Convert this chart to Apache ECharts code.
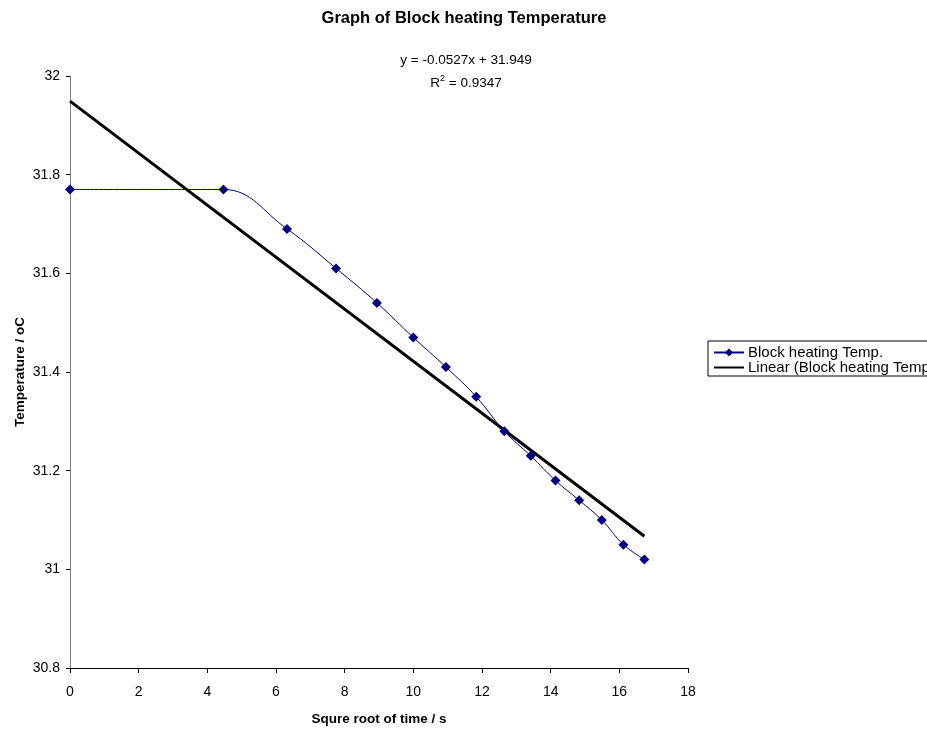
<!DOCTYPE html>
<html>
<head>
<meta charset="utf-8">
<script src="https://cdn.jsdelivr.net/npm/echarts@6/dist/echarts.min.js"></script>
<style>
html,body{margin:0;padding:0;background:#fff;}
#chart{width:927px;height:730px;}
</style>
</head>
<body>
<div id="chart"></div>
<script>
var sqrtTime = [0, 4.47, 6.32, 7.75, 8.94, 10, 10.95, 11.83, 12.65, 13.42, 14.14, 14.83, 15.49, 16.12, 16.73];
var temperature = [31.77, 31.77, 31.69, 31.61, 31.54, 31.47, 31.41, 31.35, 31.28, 31.23, 31.18, 31.14, 31.10, 31.05, 31.02];
var trendX = [0, 16.73];
var trendY = [31.949, 31.067];
var seriesName = 'Block heating Temp.';
var trendName = 'Linear (Block heating Temp.)';
var equationText = 'y = -0.0527x + 31.949';
var r2Value = '0.9347';

var FONT = '"Liberation Sans", Arial, sans-serif';
var chart = echarts.init(document.getElementById('chart'), null, {renderer: 'canvas'});

chart.setOption({
  animation: false,
  backgroundColor: '#ffffff',
  textStyle: {fontFamily: FONT, color: '#000'},
  title: {
    text: 'Graph of Block heating Temperature',
    left: 464, top: 10, textAlign: 'center', padding: 0,
    textStyle: {fontFamily: FONT, fontSize: 16.5, fontWeight: 'bold', color: '#000'}
  },
  graphic: [
    {type: 'text', x: 466, y: 60, style: {text: equationText, fontFamily: FONT, fontSize: 13.5, fill: '#000', align: 'center', verticalAlign: 'middle'}},
    {type: 'text', x: 466, y: 82, style: {
      text: '{a|R}{s|2}{a| = ' + r2Value + '}',
      align: 'center', verticalAlign: 'middle',
      rich: {
        a: {fontFamily: FONT, fontSize: 13.5, color: '#000', verticalAlign: 'bottom', lineHeight: 16},
        s: {fontFamily: FONT, fontSize: 9, color: '#000', verticalAlign: 'top', lineHeight: 9}
      }
    }}
  ],
  legend: {
    orient: 'vertical',
    left: 708, top: 341,
    padding: [4, 6, 1, 5],
    itemGap: 0,
    itemWidth: 30, itemHeight: 10,
    borderColor: '#000', borderWidth: 1, borderRadius: 0,
    textStyle: {fontFamily: FONT, fontSize: 15, color: '#000', lineHeight: 15, padding: [0,0,0,-1]},
    data: [seriesName, {name: trendName, itemStyle: {color: 'rgba(0,0,0,0)', borderColor: 'rgba(0,0,0,0)', borderWidth: 0}}]
  },
  grid: {left: 70, right: 239, top: 76, bottom: 62, containLabel: false, outerBoundsMode: 'none'},
  xAxis: {
    type: 'value', min: 0, max: 18, interval: 2,
    name: 'Squre root of time / s', nameLocation: 'middle', nameGap: 44, nameMoveOverlap: false,
    nameTextStyle: {fontFamily: FONT, fontSize: 13.5, fontWeight: 'bold', color: '#000'},
    axisLine: {lineStyle: {color: '#000', width: 1}},
    axisTick: {show: true, length: 5, lineStyle: {color: '#000'}},
    axisLabel: {fontFamily: FONT, fontSize: 14, color: '#000', margin: 17},
    splitLine: {show: false}
  },
  yAxis: {
    type: 'value', min: 30.8, max: 32, interval: 0.2,
    name: 'Temperature / oC', nameLocation: 'middle', nameGap: 43, nameMoveOverlap: false,
    nameTextStyle: {fontFamily: FONT, fontSize: 13.5, fontWeight: 'bold', color: '#000'},
    axisLine: {show: true, lineStyle: {color: '#808080', width: 1}},
    axisTick: {show: true, length: 4, lineStyle: {color: '#000'}},
    axisLabel: {fontFamily: FONT, fontSize: 14, color: '#000', margin: 10,
      formatter: function (v) { return String(Math.round(v * 10) / 10); }},
    splitLine: {show: false}
  },
  series: [
    {
      name: trendName, type: 'line',
      data: trendX.map(function (x, i) { return [x, trendY[i]]; }),
      symbol: 'none', showSymbol: false,
      lineStyle: {color: '#000', width: 3},
      itemStyle: {color: '#000'},
      z: 2
    },
    {
      name: seriesName, type: 'line',
      data: sqrtTime.map(function (x, i) { return [x, temperature[i]]; }),
      smooth: 0.4,
      symbol: 'diamond', symbolSize: 10,
      lineStyle: {color: '#000080', width: 1},
      itemStyle: {color: '#000080'},
      z: 3
    }
  ]
});
</script>
</body>
</html>
